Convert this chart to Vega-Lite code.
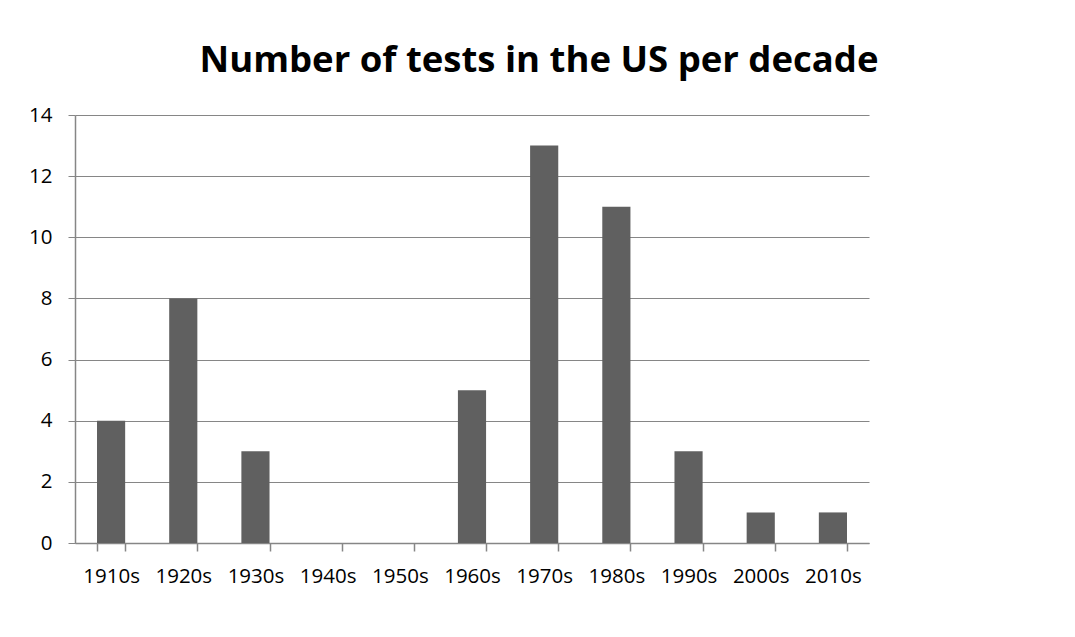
{
  "$schema": "https://vega.github.io/schema/vega-lite/v6.json",
  "width": 794,
  "height": 428,
  "autosize": "none",
  "padding": {"left": 75, "top": 115, "right": 206, "bottom": 94},
  "background": "white",
  "title": {
    "text": "Number of tests in the US per decade",
    "font": "Open Sans",
    "fontSize": 36.5,
    "fontWeight": "bold",
    "color": "#000000",
    "anchor": "middle",
    "dx": 67,
    "offset": 26
  },
  "data": {
    "values": [
      {"decade": "1910s", "tests": 4},
      {"decade": "1920s", "tests": 8},
      {"decade": "1930s", "tests": 3},
      {"decade": "1940s", "tests": 0},
      {"decade": "1950s", "tests": 0},
      {"decade": "1960s", "tests": 5},
      {"decade": "1970s", "tests": 13},
      {"decade": "1980s", "tests": 11},
      {"decade": "1990s", "tests": 3},
      {"decade": "2000s", "tests": 1},
      {"decade": "2010s", "tests": 1}
    ]
  },
  "mark": {"type": "bar", "color": "#606060"},
  "encoding": {
    "x": {
      "field": "decade",
      "type": "ordinal",
      "sort": null,
      "scale": {"paddingInner": 0.61, "paddingOuter": 0.305},
      "axis": {
        "title": null,
        "labelAngle": 0,
        "labelFont": "Open Sans",
        "labelFontSize": 20.5,
        "labelColor": "#000000",
        "labelPadding": 15,
        "tickBand": "extent",
        "tickSize": 8,
        "tickColor": "#868686",
        "domainColor": "#868686",
        "domainWidth": 1.5,
        "tickWidth": 1.5
      }
    },
    "y": {
      "field": "tests",
      "type": "quantitative",
      "scale": {"domain": [0, 14], "nice": false},
      "axis": {
        "title": null,
        "values": [0, 2, 4, 6, 8, 10, 12, 14],
        "labelFont": "Open Sans",
        "labelFontSize": 20.5,
        "labelColor": "#000000",
        "labelPadding": 16,
        "tickSize": 7,
        "tickColor": "#868686",
        "domainColor": "#868686",
        "domainWidth": 1.5,
        "gridColor": "#868686",
        "gridWidth": 1.2,
        "gridOpacity": 1
      }
    }
  },
  "config": {"view": {"stroke": null}}
}
